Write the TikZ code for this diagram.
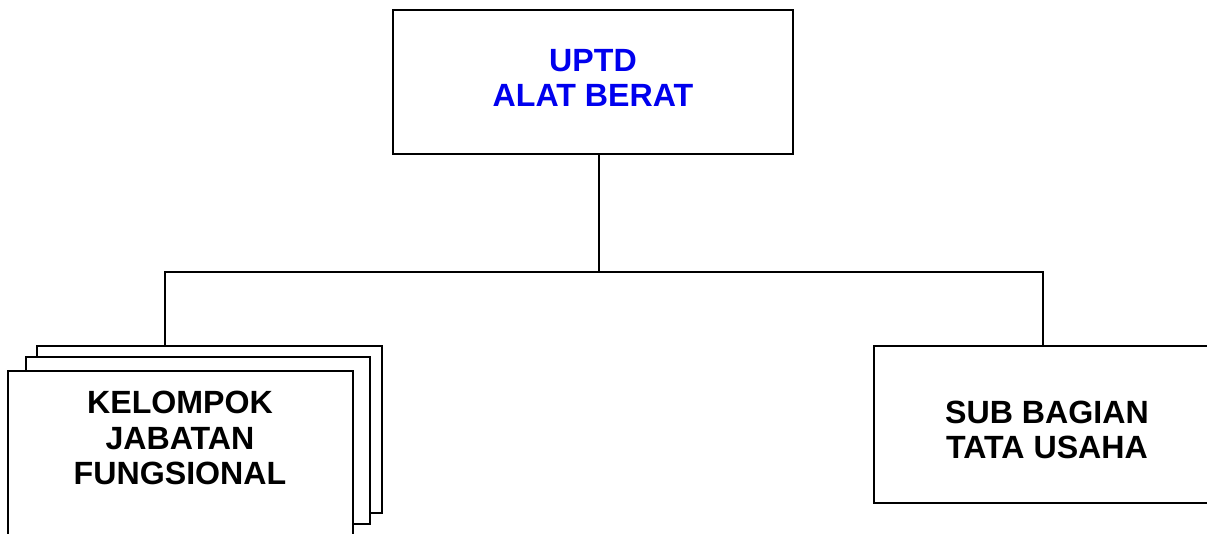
\documentclass[tikz,border=0pt]{standalone}
\usepackage{fontspec}
\setmainfont{Liberation Sans}
\usepackage{tikz}
\usetikzlibrary{positioning}

\definecolor{uptdblue}{RGB}{0,0,238}

\begin{document}
\begin{tikzpicture}[x=0.02cm,y=-0.02cm,line width=1.1pt,
	boxnode/.style={rectangle,draw,fill=white,inner sep=0pt},
	textnode/.style={align=center,font=\fontsize{18.3}{20.3}\selectfont\bfseries}]
	
	\useasboundingbox (0,0) rectangle (1207,534);
	\clip (0,0) rectangle (1207,534);
	
	\node [boxnode,minimum width=8cm,minimum height=2.88cm] (uptd) at (593, 82) {};
	\node [textnode,text=uptdblue] (uptdt) at (593, 78) {UPTD\\ALAT BERAT};
	
	\node [boxnode,minimum width=6.9cm,minimum height=3.34cm] (kjf3) at (209.5, 429.5) {};
	\node [boxnode,minimum width=6.88cm,minimum height=3.34cm] (kjf2) at (198, 440.5) {};
	\node [boxnode,minimum width=6.9cm,minimum height=3.34cm] (kjf1) at (180.5, 454.5) {};
	\node [textnode] (kjft) at (180, 438) {KELOMPOK\\JABATAN\\FUNGSIONAL};
	
	\node [boxnode,minimum width=6.92cm,minimum height=3.14cm] (sub) at (1047, 424.5) {};
	\node [textnode] (subt) at (1047, 430) {SUB BAGIAN\\TATA USAHA};
	
	\coordinate (bus) at (599, 272);
	\coordinate (busl) at (165, 272);
	\coordinate (busr) at (1043, 272);
	
	\draw (bus |- uptd.south) -- (bus);
	\draw (busl |- kjf3.north) -- (busl) -- (busr) -- (busr |- sub.north);
\end{tikzpicture}
\end{document}
